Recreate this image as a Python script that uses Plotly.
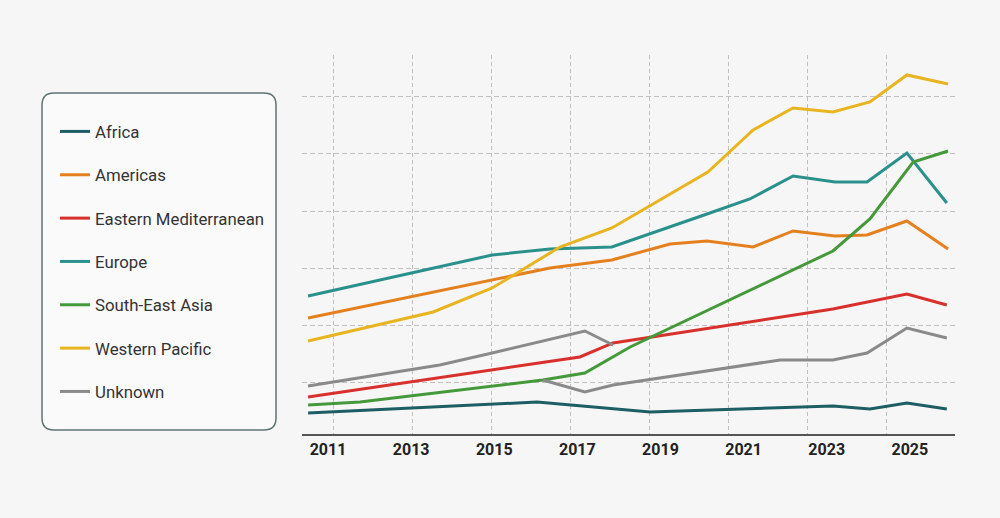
import plotly.graph_objects as go

# ---- data (years as decimal positions, values in arbitrary units) ----
africa_x = [2010.52, 2016.03, 2018.75, 2023.15, 2024.04, 2024.93, 2025.89]
africa_y = [4.72, 6.64, 4.90, 5.94, 5.42, 6.47, 5.42]

americas_x = [2010.52, 2016.34, 2017.83, 2019.23, 2020.12, 2021.23, 2022.19, 2023.20, 2023.97, 2024.93, 2025.92]
americas_y = [21.33, 30.07, 31.47, 34.27, 34.79, 33.74, 36.54, 35.66, 35.84, 38.29, 33.39]

emed_x = [2010.52, 2017.06, 2017.86, 2023.15, 2024.93, 2025.89]
emed_y = [7.52, 14.51, 16.96, 22.90, 25.52, 23.60]

europe_x = [2010.52, 2014.95, 2016.34, 2017.83, 2020.12, 2021.15, 2022.19, 2023.20, 2023.97, 2024.93, 2025.89]
europe_y = [25.17, 32.34, 33.39, 33.74, 39.51, 42.13, 46.15, 45.10, 45.10, 50.17, 41.43]

sea_x = [2010.52, 2011.77, 2016.17, 2017.18, 2018.27, 2023.15, 2024.04, 2025.08, 2025.92]
sea_y = [6.12, 6.64, 10.49, 11.71, 16.26, 33.04, 38.64, 48.60, 50.52]

wpac_x = [2010.52, 2013.53, 2014.95, 2016.58, 2017.83, 2020.14, 2021.23, 2022.19, 2023.15, 2024.04, 2024.93, 2025.92]
wpac_y = [17.31, 22.38, 26.57, 33.74, 37.06, 46.85, 54.20, 58.04, 57.34, 59.09, 63.81, 62.24]

unknown_x = [2010.52, 2013.69, 2014.95, 2017.18, 2017.86, None,
             2016.17, 2017.18, 2017.86, 2021.88, 2023.15, 2023.97, 2024.93, 2025.89]
unknown_y = [9.44, 13.11, 15.21, 19.06, 16.61, None,
             10.49, 8.39, 9.62, 13.99, 13.99, 15.21, 19.58, 17.83]

tick_years = [2011, 2013, 2015, 2017, 2019, 2021, 2023, 2025]
tick_labels = [str(y) for y in tick_years]

series = [
    ("Africa", africa_x, africa_y, "#1d5e64"),
    ("Americas", americas_x, americas_y, "#e5801f"),
    ("Eastern Mediterranean", emed_x, emed_y, "#d7302d"),
    ("Europe", europe_x, europe_y, "#2a908c"),
    ("South-East Asia", sea_x, sea_y, "#45993b"),
    ("Western Pacific", wpac_x, wpac_y, "#e8b520"),
    ("Unknown", unknown_x, unknown_y, "#8a8a8a"),
]

W, H = 1000, 518
ML, MR, MT, MB = 302, 45, 55, 84
PW, PH = W - ML - MR, H - MT - MB


def px_x(p):
    return (p - ML) / PW


def px_y(p):
    return (H - MB - p) / PH


fig = go.Figure()
for name, xs, ys, col in series:
    fig.add_trace(go.Scatter(
        x=xs, y=ys, mode="lines", name=name, legendgroup=name,
        line=dict(color=col, width=3), connectgaps=False,
    ))

# rounded legend box
x0, x1 = px_x(42), px_x(276)
yt, yb = px_y(93), px_y(430)
rx, ry = 12 / PW, 12 / PH
path = (f"M {x0+rx},{yt} L {x1-rx},{yt} Q {x1},{yt} {x1},{yt-ry} "
        f"L {x1},{yb+ry} Q {x1},{yb} {x1-rx},{yb} L {x0+rx},{yb} "
        f"Q {x0},{yb} {x0},{yb+ry} L {x0},{yt-ry} Q {x0},{yt} {x0+rx},{yt} Z")
fig.add_shape(type="path", path=path, xref="paper", yref="paper",
              fillcolor="#fafafa", line=dict(color="#5f7373", width=1.5), layer="below")

GRID = "#c0c0c0"
fig.update_layout(
    width=W, height=H,
    margin=dict(l=ML, r=MR, t=MT, b=MB),
    paper_bgcolor="#f6f6f6", plot_bgcolor="#f6f6f6",
    font=dict(family="Roboto, Open Sans, sans-serif", color="#333333"),
    showlegend=True,
    legend=dict(
        x=px_x(55), y=px_y(114), xanchor="left", yanchor="top",
        bgcolor="rgba(0,0,0,0)", borderwidth=0,
        font=dict(size=16.8, color="#333333", family="Roboto, sans-serif"),
        tracegroupgap=18.5, traceorder="grouped", itemwidth=30,
    ),
    xaxis=dict(
        range=[2010.374, 2026.087], tickmode="array", tickvals=tick_years, ticktext=tick_labels,
        showgrid=False, zeroline=False, showline=True, linecolor="#555555", linewidth=2,
        ticks="", tickfont=dict(size=16, color="#222222", family="Roboto, sans-serif", weight="bold"),
        minor=dict(tick0=2011.14, dtick=1.9, showgrid=True, gridcolor=GRID,
                   griddash="4px,3px", gridwidth=1, ticks=""),
    ),
    yaxis=dict(
        range=[1.05, 67.3], tick0=0, dtick=10, showticklabels=False, zeroline=False,
        showline=False, showgrid=True, gridcolor=GRID, griddash="5px,3px", gridwidth=1,
    ),
)

fig.write_html("out.html")
